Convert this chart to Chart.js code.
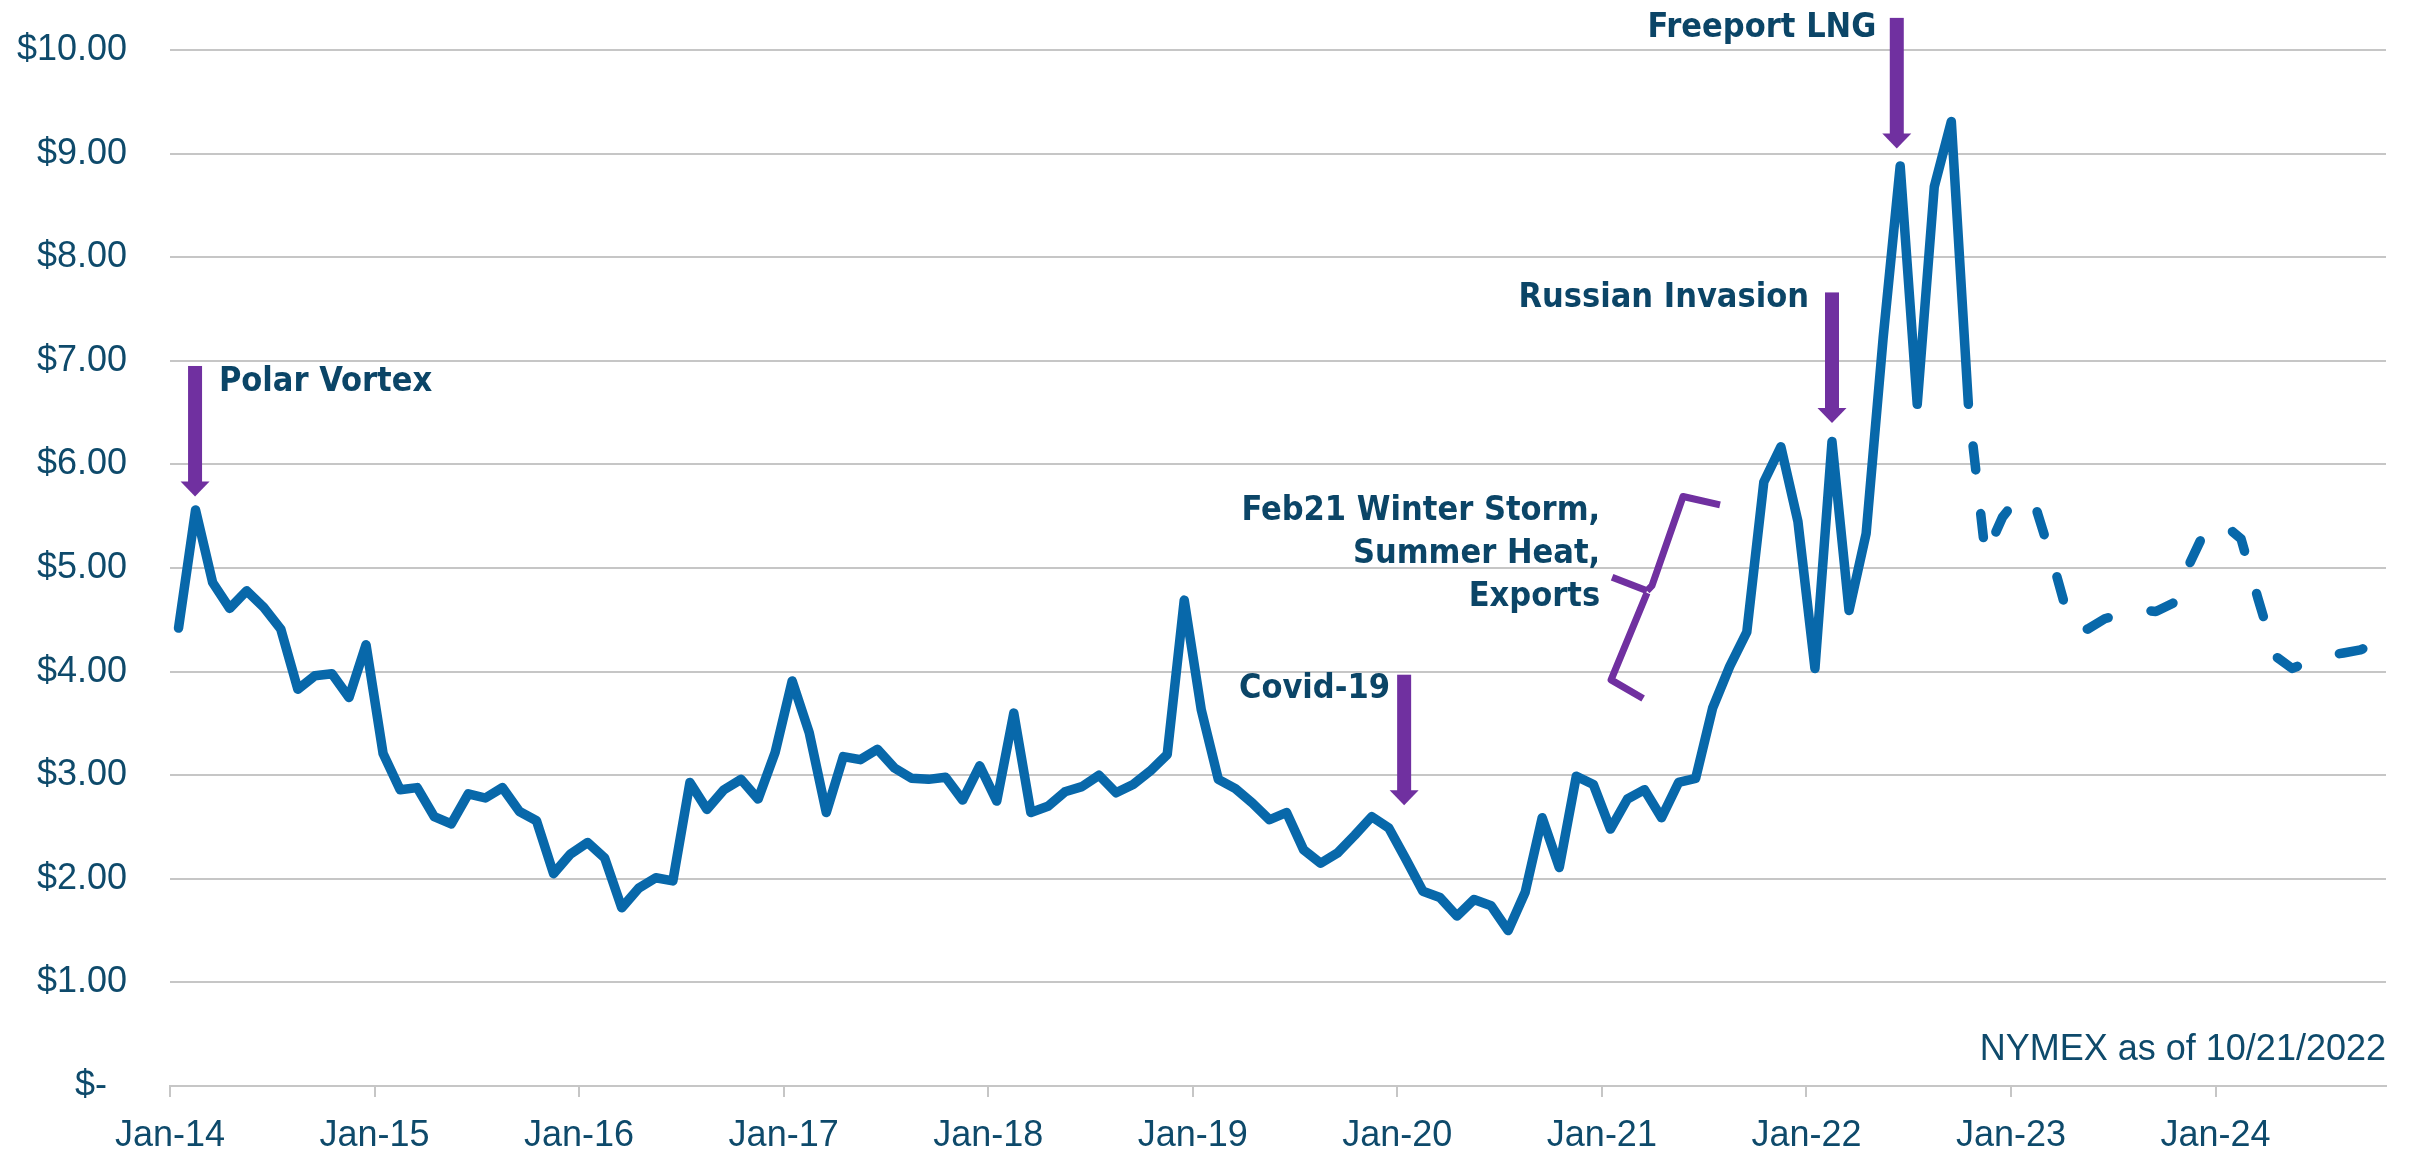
<!DOCTYPE html>
<html>
<head>
<meta charset="utf-8">
<script src="https://cdn.jsdelivr.net/npm/chart.js@4.4.1/dist/chart.umd.min.js"></script>
<style>
  html, body { margin: 0; padding: 0; background: #fff; }
  canvas { display: block; }
</style>
</head>
<body>
<canvas id="gas-chart" width="2409" height="1151"></canvas>
<script>
// x axis labels, one per January
const yearTicks = ['Jan-14', 'Jan-15', 'Jan-16', 'Jan-17', 'Jan-18', 'Jan-19',
                   'Jan-20', 'Jan-21', 'Jan-22', 'Jan-23', 'Jan-24'];
const priceTicks = ['$-  ', '$1.00', '$2.00', '$3.00', '$4.00', '$5.00',
                    '$6.00', '$7.00', '$8.00', '$9.00', '$10.00'];

// monthly Henry Hub price, Jan-14 .. Oct-22
const actual = [
  4.42, 5.56, 4.86, 4.61, 4.78, 4.62, 4.41, 3.83, 3.96, 3.98, 3.75, 4.26,
  3.21, 2.86, 2.88, 2.60, 2.53, 2.82, 2.78, 2.88, 2.65, 2.56, 2.05, 2.24,
  2.35, 2.20, 1.72, 1.91, 2.01, 1.98, 2.93, 2.67, 2.86, 2.96, 2.77, 3.22,
  3.91, 3.41, 2.64, 3.18, 3.15, 3.25, 3.07, 2.97, 2.96, 2.98, 2.76, 3.09,
  2.75, 3.60, 2.64, 2.70, 2.84, 2.89, 3.00, 2.83, 2.91, 3.04, 3.20, 4.69,
  3.63, 2.96, 2.87, 2.73, 2.57, 2.64, 2.28, 2.15, 2.25, 2.42, 2.60, 2.49,
  2.19, 1.88, 1.82, 1.64, 1.80, 1.74, 1.50, 1.87, 2.59, 2.11, 2.99, 2.91,
  2.48, 2.77, 2.86, 2.59, 2.93, 2.97, 3.65, 4.05, 4.38, 5.83, 6.17, 5.45,
  4.03, 6.22, 4.59, 5.33, 7.22, 8.88, 6.58, 8.68, 9.31, 6.58
];
// NYMEX strip as of 10/21/2022, Nov-22 .. Oct-24
const futures = [
  5.12, 5.49, 5.70, 5.56, 5.03, 4.44, 4.41, 4.51, 4.56, 4.60, 4.58, 4.66,
  5.05, 5.40, 5.42, 5.28, 4.70, 4.15, 4.03, 4.10, 4.15, 4.18, 4.21, 4.28
];

const LINE = '#0868aa';
const PURPLE = '#7030a0';
const AXIS_TEXT = '#0e4a6b';
const NOTE_TEXT = '#0b4567';
const GRID = '#c6c6c6';
const AXIS_FONT = { family: '"Liberation Sans", Arial, sans-serif', size: 36 };

// points sit in the middle of their month
const actualPts = actual.map((v, i) => ({ x: i + 0.5, y: v }));
const last = actual.length - 1;
const futurePts = [{ x: last + 0.5, y: actual[last] }]
  .concat(futures.map((v, i) => ({ x: actual.length + i + 0.5, y: v })));

const arrows = [
  { x: 1.47, from: 6.95, to: 5.69 },
  { x: 72.4, from: 3.97, to: 2.71 },
  { x: 97.5, from: 7.66, to: 6.40 },
  { x: 101.3, from: 10.31, to: 9.05 }
];
const notes = [
  { text: 'Polar Vortex', x: 2.87, y: 6.71, align: 'left' },
  { text: 'Covid-19', x: 71.57, y: 3.75, align: 'right' },
  { text: 'Russian Invasion', x: 96.15, y: 7.52, align: 'right' },
  { text: 'Freeport LNG', x: 100.1, y: 10.13, align: 'right' },
  { text: 'Feb21 Winter Storm,', x: 83.9, y: 5.46, align: 'right' },
  { text: 'Summer Heat,', x: 83.9, y: 5.05, align: 'right' },
  { text: 'Exports', x: 83.9, y: 4.63, align: 'right' }
];
const brace = [
  [[90.93, 5.61], [88.76, 5.69], [86.94, 4.83], [86.65, 4.78]],
  [[84.6, 4.91], [86.65, 4.78]],
  [[86.65, 4.76], [84.54, 3.92], [86.42, 3.74]]
];

const annotate = {
  id: 'annotate',
  afterDraw(chart) {
    const ctx = chart.ctx;
    const xs = chart.scales.x, ys = chart.scales.y;
    const px = v => xs.getPixelForValue(v);
    const py = v => ys.getPixelForValue(v);
    ctx.save();

    ctx.fillStyle = PURPLE;
    arrows.forEach(a => {
      const x = px(a.x), top = py(a.from), tip = py(a.to);
      ctx.fillRect(x - 7, top, 14, tip - top - 14);
      ctx.beginPath();
      ctx.moveTo(x - 14.5, tip - 15);
      ctx.lineTo(x + 14.5, tip - 15);
      ctx.lineTo(x, tip);
      ctx.closePath();
      ctx.fill();
    });

    ctx.strokeStyle = PURPLE;
    ctx.lineWidth = 7;
    ctx.lineJoin = 'round';
    brace.forEach(part => {
      ctx.beginPath();
      part.forEach((p, i) => i ? ctx.lineTo(px(p[0]), py(p[1])) : ctx.moveTo(px(p[0]), py(p[1])));
      ctx.stroke();
    });

    ctx.fillStyle = NOTE_TEXT;
    ctx.textBaseline = 'alphabetic';
    ctx.font = 'bold 34px "DejaVu Sans Condensed", "DejaVu Sans", sans-serif';
    try { ctx.fontStretch = 'condensed'; } catch (e) {}
    notes.forEach(n => {
      ctx.textAlign = n.align;
      ctx.fillText(n.text, px(n.x), py(n.y));
    });

    ctx.fillStyle = AXIS_TEXT;
    ctx.font = '36px "Liberation Sans", Arial, sans-serif';
    try { ctx.fontStretch = 'normal'; } catch (e) {}
    ctx.textAlign = 'right';
    ctx.fillText('NYMEX as of 10/21/2022', px(130), py(0.25));
    ctx.restore();
  }
};

new Chart(document.getElementById('gas-chart'), {
  type: 'line',
  data: {
    datasets: [
      {
        label: 'Actual',
        data: actualPts,
        borderColor: LINE,
        borderWidth: 9.5,
        borderJoinStyle: 'round',
        borderCapStyle: 'round',
        pointRadius: 0,
        tension: 0
      },
      {
        label: 'NYMEX',
        data: futurePts,
        borderColor: LINE,
        borderWidth: 9.5,
        borderJoinStyle: 'round',
        borderCapStyle: 'round',
        borderDash: [24, 44],
        borderDashOffset: 26,
        pointRadius: 0,
        tension: 0
      }
    ]
  },
  plugins: [annotate],
  options: {
    responsive: false,
    animation: false,
    devicePixelRatio: 1,
    layout: { padding: { top: 50, right: 23, left: 0, bottom: 0 } },
    plugins: { legend: { display: false }, tooltip: { enabled: false } },
    scales: {
      x: {
        type: 'linear',
        min: 0,
        max: 130,
        afterBuildTicks: axis => { axis.ticks = yearTicks.map((t, i) => ({ value: i * 12 })); },
        afterFit: axis => { axis.height = 65; },
        ticks: {
          callback: (v, i) => yearTicks[i],
          color: AXIS_TEXT,
          font: AXIS_FONT,
          padding: 17,
          maxRotation: 0,
          autoSkip: false
        },
        grid: { drawOnChartArea: false, tickLength: 11, color: GRID, lineWidth: 2 },
        border: { color: GRID, width: 2 }
      },
      y: {
        min: 0,
        max: 10,
        afterFit: axis => {
          axis.width = 170;
          // tick padding is horizontal only here; keep it out of the top/bottom margins
          axis.paddingTop = 20;
          axis.paddingBottom = 20;
        },
        ticks: {
          stepSize: 1,
          callback: (v) => priceTicks[Math.round(v)],
          color: AXIS_TEXT,
          font: AXIS_FONT,
          padding: 43
        },
        grid: { color: GRID, lineWidth: 2, drawTicks: false },
        border: { display: false }
      }
    }
  }
});
</script>
</body>
</html>
